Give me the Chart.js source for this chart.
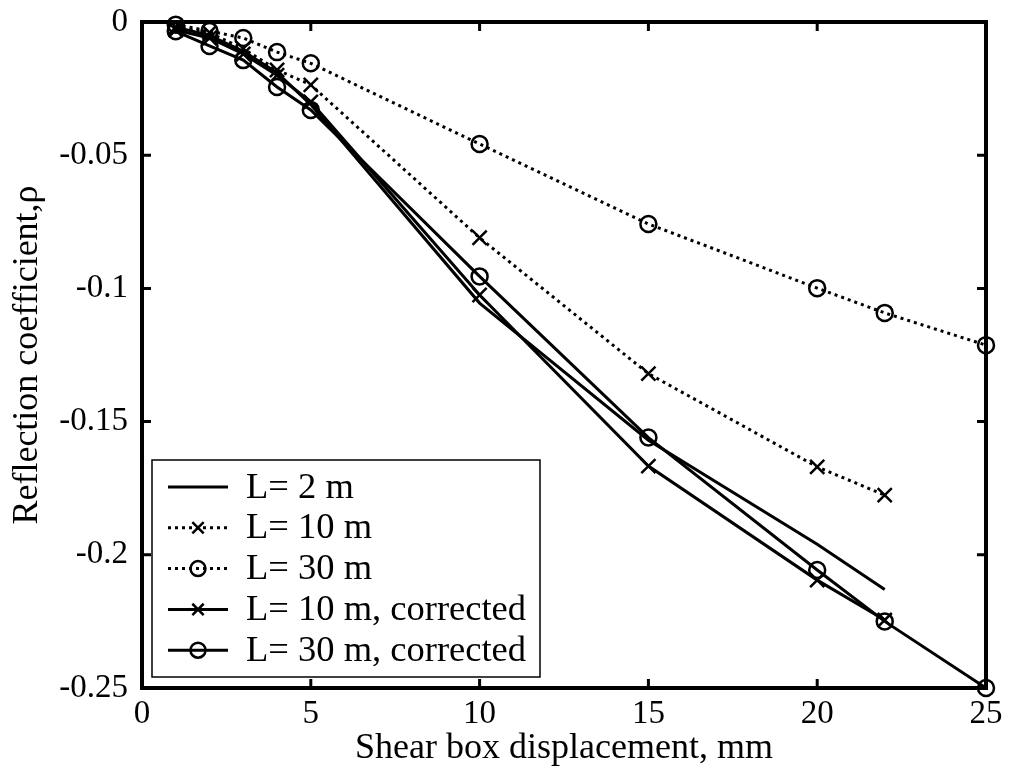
<!DOCTYPE html>
<html>
<head>
<meta charset="utf-8">
<script src="https://cdn.jsdelivr.net/npm/chart.js@4.4.1/dist/chart.umd.min.js"></script>
<style>
html,body{margin:0;padding:0;background:#fff;}
#wrap{width:1010px;height:779px;}
</style>
</head>
<body>
<div id="wrap"><canvas id="c" width="1010" height="779"></canvas></div>
<script>
// ---- data ----
const xTicks = [0, 5, 10, 15, 20, 25];
const yTicks = [0, -0.05, -0.1, -0.15, -0.2, -0.25];

const xL2 = [1, 2, 3, 4, 5, 10, 15, 20, 22];
const yL2 = [-0.002, -0.005, -0.011, -0.019, -0.031, -0.1055, -0.157, -0.196, -0.213];

const xL10 = [1, 2, 3, 4, 5, 10, 15, 20, 22];
const yL10 = [-0.002, -0.004, -0.010, -0.018, -0.0236, -0.081, -0.132, -0.167, -0.1776];

const xL30 = [1, 2, 3, 4, 5, 10, 15, 20, 22, 25];
const yL30 = [-0.001, -0.0034, -0.006, -0.0113, -0.0155, -0.0458, -0.0758, -0.0999, -0.1092, -0.1213];

const xL10c = [1, 2, 3, 4, 5, 10, 15, 20, 22];
const yL10c = [-0.003, -0.006, -0.012, -0.020, -0.030, -0.1025, -0.1667, -0.2095, -0.2245];

const xL30c = [1, 2, 3, 4, 5, 10, 15, 20, 22, 25];
const yL30c = [-0.0035, -0.009, -0.0143, -0.0244, -0.033, -0.0955, -0.156, -0.2057, -0.225, -0.25];

const seriesLabels = ["L= 2 m", "L= 10 m", "L= 30 m", "L= 10 m, corrected", "L= 30 m, corrected"];

const xTitle = "Shear box displacement, mm";
const yTitle = "Reflection coefficient,\u03C1";

// ---- build ----
const pts = (xs, ys) => xs.map((x, i) => ({x: x, y: ys[i]}));
const FONT = "'Liberation Serif', 'Times New Roman', serif";
const DOT = [3, 4];

function ds(label, data, dashed, marker, r) {
  return {
    label: label,
    data: data,
    borderColor: '#000',
    backgroundColor: 'rgba(0,0,0,0)',
    borderWidth: 3,
    borderDash: dashed ? DOT : [],
    pointStyle: marker || 'circle',
    pointRadius: marker ? r : 0,
    pointHoverRadius: marker ? r : 0,
    pointBorderWidth: 2.5,
    pointBorderColor: '#000',
    pointBackgroundColor: 'rgba(0,0,0,0)',
    tension: 0,
    clip: false
  };
}

const datasets = [
  ds(seriesLabels[0], pts(xL2, yL2), false, null, 0),
  ds(seriesLabels[1], pts(xL10, yL10), true, 'crossRot', 10),
  ds(seriesLabels[2], pts(xL30, yL30), true, 'circle', 8),
  ds(seriesLabels[3], pts(xL10c, yL10c), false, 'crossRot', 10),
  ds(seriesLabels[4], pts(xL30c, yL30c), false, 'circle', 8)
];

const fmt = v => String(Number(v.toFixed(2)));

const framePlugin = {
  id: 'frame',
  afterDraw(chart) {
    const ctx = chart.ctx;
    const a = chart.chartArea;
    const xs = chart.scales.x, ys = chart.scales.y;
    ctx.save();
    ctx.strokeStyle = '#000';
    // inward ticks
    ctx.lineWidth = 3;
    const TL = 9;
    ctx.beginPath();
    xTicks.forEach(v => {
      const p = xs.getPixelForValue(v);
      ctx.moveTo(p, a.bottom); ctx.lineTo(p, a.bottom - TL);
      ctx.moveTo(p, a.top); ctx.lineTo(p, a.top + TL);
    });
    yTicks.forEach(v => {
      const p = ys.getPixelForValue(v);
      ctx.moveTo(a.left, p); ctx.lineTo(a.left + TL, p);
      ctx.moveTo(a.right, p); ctx.lineTo(a.right - TL, p);
    });
    ctx.stroke();
    // box
    ctx.lineWidth = 4;
    ctx.strokeRect(a.left, a.top, a.right - a.left, a.bottom - a.top);

    // legend
    const lx = 152, ly = 460, lw = 388, lh = 217;
    ctx.fillStyle = '#fff';
    ctx.fillRect(lx, ly, lw, lh);
    ctx.lineWidth = 1.5;
    ctx.strokeRect(lx, ly, lw, lh);
    const rowY0 = 487, rowStep = 40.8;
    chart.data.datasets.forEach((d, i) => {
      const y = rowY0 + i * rowStep;
      ctx.save();
      ctx.strokeStyle = '#000';
      ctx.lineWidth = d.borderWidth;
      ctx.setLineDash(d.borderDash || []);
      ctx.beginPath();
      ctx.moveTo(168, y); ctx.lineTo(228, y);
      ctx.stroke();
      ctx.restore();
      if (d.pointRadius > 0) {
        ctx.save();
        ctx.strokeStyle = '#000';
        ctx.fillStyle = 'rgba(0,0,0,0)';
        ctx.lineWidth = d.pointBorderWidth;
        Chart.helpers.drawPoint(ctx, {pointStyle: d.pointStyle, radius: d.pointStyle === 'circle' ? 7.5 : 8, borderWidth: d.pointBorderWidth, rotation: 0}, 198, y);
        ctx.restore();
      }
      ctx.fillStyle = '#000';
      ctx.font = "36.5px " + FONT;
      ctx.textBaseline = 'middle';
      ctx.textAlign = 'left';
      ctx.fillText(d.label, 246, y + 1);
    });
    ctx.restore();
  }
};

new Chart(document.getElementById('c'), {
  type: 'line',
  data: {datasets: datasets},
  options: {
    responsive: false,
    animation: false,
    layout: {padding: {top: 22, right: 24, left: 0, bottom: 0}},
    plugins: {legend: {display: false}, tooltip: {enabled: false}},
    scales: {
      x: {
        type: 'linear',
        min: 0, max: 25,
        afterBuildTicks: s => { s.ticks = xTicks.map(v => ({value: v})); },
        afterFit: s => { s.height = 91; s.paddingLeft = 0; s.paddingRight = 0; },
        grid: {display: false, drawTicks: false},
        border: {display: false},
        ticks: {color: '#000', padding: 7, font: {family: FONT, size: 33}, callback: v => fmt(v), maxRotation: 0},
        title: {display: true, text: xTitle, color: '#000', font: {family: FONT, size: 36}, padding: {top: 0, bottom: 9}}
      },
      y: {
        type: 'linear',
        min: -0.25, max: 0,
        afterBuildTicks: s => { s.ticks = yTicks.map(v => ({value: v})); },
        afterFit: s => { s.width = 142; s.paddingTop = 0; s.paddingBottom = 0; },
        grid: {display: false, drawTicks: false},
        border: {display: false},
        ticks: {color: '#000', padding: 14, font: {family: FONT, size: 33}, callback: v => fmt(v)},
        title: {display: true, text: yTitle, color: '#000', font: {family: FONT, size: 36}, padding: {top: 6, bottom: 0}}
      }
    }
  },
  plugins: [framePlugin]
});
</script>
</body>
</html>
